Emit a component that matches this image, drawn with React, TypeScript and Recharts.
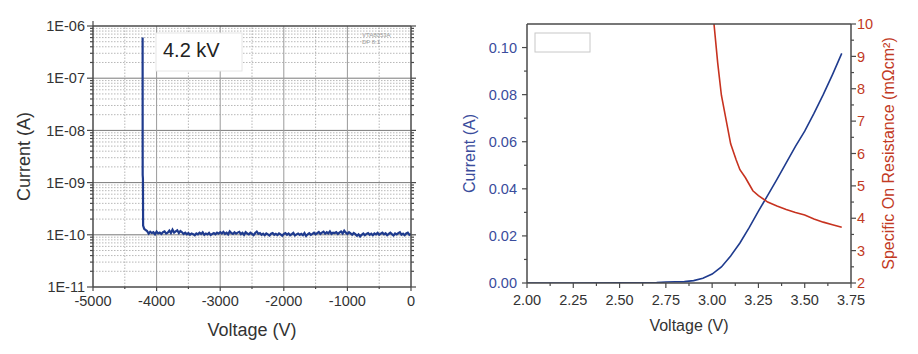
import React from 'react';
import { LineChart, Line, XAxis, YAxis, ReferenceLine } from 'recharts';

const FONT = "'Liberation Sans', Arial, sans-serif";

// ---------- Left chart: reverse leakage (log scale) ----------
const leakVoltage = [
  -4220, -4219, -4215, -4212, -4195, -4180,
  -4150, -4125, -4100, -4075, -4050, -4025, -4000, -3975, -3950, -3925, -3900, -3875, -3850, -3825, -3800, -3775, -3750, -3725, -3700, -3675, -3650, -3625, -3600,
  -3575, -3550, -3525, -3500, -3475, -3450, -3425, -3400, -3375, -3350, -3325, -3300, -3275, -3250, -3225, -3200, -3175, -3150, -3125, -3100, -3075, -3050, -3025, -3000,
  -2975, -2950, -2925, -2900, -2875, -2850, -2825, -2800, -2775, -2750, -2725, -2700, -2675, -2650, -2625, -2600, -2575, -2550, -2525, -2500, -2475, -2450, -2425, -2400,
  -2375, -2350, -2325, -2300, -2275, -2250, -2225, -2200, -2175, -2150, -2125, -2100, -2075, -2050, -2025, -2000, -1975, -1950, -1925, -1900, -1875, -1850, -1825, -1800,
  -1775, -1750, -1725, -1700, -1675, -1650, -1625, -1600, -1575, -1550, -1525, -1500, -1475, -1450, -1425, -1400, -1375, -1350, -1325, -1300, -1275, -1250, -1225, -1200,
  -1175, -1150, -1125, -1100, -1075, -1050, -1025, -1000, -975, -950, -925, -900, -875, -850, -825, -800, -775, -750, -725, -700, -675, -650, -625, -600,
  -575, -550, -525, -500, -475, -450, -425, -400, -375, -350, -325, -300, -275, -250, -225, -200, -175, -150, -125, -100, -75, -50, -25, 0,
];
const leakCurrent = [
  6.0e-7, 1.4e-9, 1.2e-9, 1.5e-10, 1.3e-10, 1.25e-10,
  1.18e-10, 1.05e-10, 1.14e-10, 1.08e-10, 1.12e-10, 1.02e-10, 1.15e-10, 1.06e-10, 1.10e-10, 1.04e-10, 1.12e-10, 1.16e-10, 1.06e-10, 1.10e-10, 1.20e-10, 1.08e-10, 1.25e-10, 1.10e-10, 1.16e-10, 1.22e-10, 1.08e-10, 1.18e-10, 1.12e-10,
  1.04e-10, 1.10e-10, 1.02e-10, 1.08e-10, 1.00e-10, 1.06e-10, 1.03e-10, 0.98e-10, 1.06e-10, 1.02e-10, 1.10e-10, 1.04e-10, 1.12e-10, 1.00e-10, 1.06e-10, 1.02e-10, 1.09e-10, 0.99e-10, 1.04e-10, 1.08e-10, 1.02e-10, 1.10e-10, 1.05e-10, 1.12e-10,
  1.06e-10, 1.14e-10, 1.04e-10, 1.10e-10, 1.02e-10, 1.16e-10, 1.08e-10, 1.04e-10, 1.12e-10, 1.05e-10, 1.10e-10, 1.14e-10, 1.03e-10, 1.09e-10, 1.00e-10, 1.12e-10, 1.06e-10, 1.02e-10, 1.10e-10, 1.04e-10, 0.98e-10, 1.08e-10, 1.15e-10, 1.04e-10,
  1.08e-10, 1.00e-10, 1.05e-10, 0.98e-10, 1.06e-10, 1.02e-10, 0.97e-10, 1.05e-10, 1.08e-10, 1.00e-10, 1.04e-10, 0.99e-10, 1.06e-10, 1.02e-10, 0.96e-10, 1.04e-10, 1.08e-10, 1.00e-10, 1.06e-10, 0.98e-10, 1.03e-10, 1.09e-10, 0.97e-10, 1.02e-10,
  1.06e-10, 1.00e-10, 1.04e-10, 0.98e-10, 1.08e-10, 0.95e-10, 1.02e-10, 1.07e-10, 1.00e-10, 1.04e-10, 1.10e-10, 1.02e-10, 1.08e-10, 1.13e-10, 1.04e-10, 1.10e-10, 1.15e-10, 1.05e-10, 1.12e-10, 1.06e-10, 1.16e-10, 1.04e-10, 1.10e-10, 1.08e-10,
  1.12e-10, 1.04e-10, 1.10e-10, 1.16e-10, 1.06e-10, 1.20e-10, 1.10e-10, 1.04e-10, 1.12e-10, 1.06e-10, 1.00e-10, 1.08e-10, 1.03e-10, 0.96e-10, 1.02e-10, 0.93e-10, 1.00e-10, 1.06e-10, 0.98e-10, 1.04e-10, 1.08e-10, 1.00e-10, 1.05e-10, 0.98e-10,
  1.06e-10, 1.02e-10, 1.09e-10, 1.00e-10, 1.05e-10, 1.10e-10, 1.02e-10, 1.07e-10, 0.98e-10, 1.04e-10, 1.10e-10, 1.03e-10, 0.97e-10, 1.06e-10, 1.02e-10, 1.08e-10, 1.12e-10, 1.00e-10, 1.05e-10, 0.98e-10, 1.06e-10, 1.10e-10, 1.00e-10, 1.03e-10,
];
const leakXMajor = [-5000, -4000, -3000, -2000, -1000, 0];
const leakXMinor = [-4500, -3500, -2500, -1500, -500];
const leakYDecades = [1e-11, 1e-10, 1e-9, 1e-8, 1e-7, 1e-6];
const leakYMinor = leakYDecades.slice(0, -1).flatMap((d) => [2, 3, 4, 5, 6, 7, 8, 9].map((m) => m * d));

// ---------- Right chart: forward IV + specific on-resistance ----------
const ivVoltage = [2.0, 2.25, 2.5, 2.7, 2.75, 2.8, 2.85, 2.9, 2.95, 3.0, 3.05, 3.1, 3.15, 3.2, 3.25, 3.3, 3.35, 3.4, 3.45, 3.5, 3.55, 3.6, 3.65, 3.7];
const ivCurrent = [0.0, 0.0, 0.0001, 0.0002, 0.0004, 0.0005, 0.0006, 0.001, 0.002, 0.0038, 0.0068, 0.0115, 0.017, 0.0235, 0.0305, 0.0372, 0.044, 0.051, 0.058, 0.0645, 0.072, 0.08, 0.0885, 0.0975];
const ronVoltage = [3.01, 3.03, 3.05, 3.08, 3.1, 3.13, 3.15, 3.18, 3.2, 3.22, 3.25, 3.3, 3.35, 3.4, 3.45, 3.5, 3.55, 3.6, 3.65, 3.7];
const ronValue = [10.0, 8.8, 7.8, 6.9, 6.3, 5.8, 5.5, 5.25, 5.05, 4.85, 4.7, 4.5, 4.38, 4.27, 4.18, 4.1, 3.98, 3.88, 3.8, 3.72];
const ivXMajor = [2.0, 2.25, 2.5, 2.75, 3.0, 3.25, 3.5, 3.75];
const ivXMinor = [2.125, 2.375, 2.625, 2.875, 3.125, 3.375, 3.625];
const ivYMajor = [0, 0.02, 0.04, 0.06, 0.08, 0.1];
const ivYMinor = [0.01, 0.03, 0.05, 0.07, 0.09];
const ronYMajor = [2, 3, 4, 5, 6, 7, 8, 9, 10];
const ronYMinor = [2.5, 3.5, 4.5, 5.5, 6.5, 7.5, 8.5, 9.5];

const BLUE_LINE = '#1f3b8e';
const BLUE_TEXT = '#3a4c9c';
const RED_LINE = '#c7321f';
const RED_TEXT = '#c23a24';
const AXIS = '#4a4a4a';

function AxisTick(props: any) {
  const { x, y, payload, side, majors, fmt, color, fontSize, majorLen, minorLen, gap } = props;
  const v = payload.value;
  const isMajor = majors.some((m: number) => Math.abs(m - v) <= Math.abs(m) * 1e-6 + 1e-20);
  const len = isMajor ? majorLen : minorLen;
  const showText = isMajor && fmt;
  if (side === 'bottom') {
    return (
      <g>
        <line x1={x} y1={y} x2={x} y2={y + len} stroke={AXIS} strokeWidth={1.2} />
        {showText && (
          <text x={x} y={y + gap} textAnchor="middle" fontSize={fontSize} fill={color} fontFamily={FONT}>{fmt(v)}</text>
        )}
      </g>
    );
  }
  if (side === 'top') {
    return <line x1={x} y1={y} x2={x} y2={y - len} stroke={AXIS} strokeWidth={1.2} />;
  }
  if (side === 'left') {
    return (
      <g>
        <line x1={x} y1={y} x2={x - len} y2={y} stroke={AXIS} strokeWidth={1.2} />
        {showText && (
          <text x={x - gap} y={y + fontSize * 0.36} textAnchor="end" fontSize={fontSize} fill={color} fontFamily={FONT}>{fmt(v)}</text>
        )}
      </g>
    );
  }
  return (
    <g>
      <line x1={x} y1={y} x2={x + len} y2={y} stroke={AXIS} strokeWidth={1.2} />
      {showText && (
        <text x={x + gap} y={y + fontSize * 0.36} textAnchor="start" fontSize={fontSize} fill={color} fontFamily={FONT}>{fmt(v)}</text>
      )}
    </g>
  );
}

const fmtExp = (v: number) => '1E-' + String(-Math.round(Math.log10(v))).padStart(2, '0');

export default function App() {
  const leakData = leakVoltage.map((v, k) => ({ v, i: leakCurrent[k] }));
  const ivData = ivVoltage.map((v, k) => ({ v, i: ivCurrent[k] }));
  const ronData = ronVoltage.map((v, k) => ({ v, r: ronValue[k] }));
  const axisLine = { stroke: AXIS, strokeWidth: 1.5 };

  return (
    <div style={{ position: 'absolute', left: 0, top: 0, width: 918, height: 354, background: '#fff', fontFamily: FONT }}>
      <div style={{ position: 'absolute', left: 0, top: 0 }}>
        <LineChart width={430} height={354} data={leakData} margin={{ top: 20, right: 0, bottom: 0, left: 0 }}>
          <XAxis
            dataKey="v" type="number" domain={[-5000, 0]} allowDataOverflow
            ticks={[...leakXMajor, ...leakXMinor]} interval={0} height={67}
            tickSize={0} tickMargin={0} tickLine={false} axisLine={axisLine}
            tick={(p: any) => <AxisTick {...p} side="bottom" majors={leakXMajor} fmt={(v: number) => String(v)} color="#333" fontSize={14.5} majorLen={4} minorLen={2} gap={19} />}
            label={{ value: 'Voltage (V)', position: 'insideBottom', offset: 18, fill: '#333', fontSize: 18 }}
          />
          <XAxis
            xAxisId="top" orientation="top" type="number" domain={[-5000, 0]} allowDataOverflow
            ticks={[...leakXMajor, ...leakXMinor]} interval={0} height={6}
            tickSize={0} tickMargin={0} tickLine={false} axisLine={axisLine}
            tick={(p: any) => <AxisTick {...p} side="top" majors={leakXMajor} majorLen={5} minorLen={3} />}
          />
          <YAxis
            type="number" scale="log" domain={[1e-11, 1e-6]} allowDataOverflow
            ticks={[...leakYDecades, ...leakYMinor]} interval={0} width={93}
            tickSize={0} tickMargin={0} tickLine={false} axisLine={axisLine}
            tick={(p: any) => <AxisTick {...p} side="left" majors={leakYDecades} fmt={fmtExp} color="#333" fontSize={14.5} majorLen={6} minorLen={3} gap={8} />}
            label={{ value: 'Current (A)', angle: -90, position: 'insideLeft', offset: 24, fill: '#333', fontSize: 18, style: { textAnchor: 'middle' } }}
          />
          <YAxis
            yAxisId="r" orientation="right" type="number" scale="log" domain={[1e-11, 1e-6]} allowDataOverflow
            ticks={[...leakYDecades, ...leakYMinor]} interval={0} width={19}
            tickSize={0} tickMargin={0} tickLine={false} axisLine={axisLine}
            tick={(p: any) => <AxisTick {...p} side="right" majors={leakYDecades} majorLen={5} minorLen={3} />}
          />
          {leakYMinor.map((y) => (
            <ReferenceLine key={'hm' + y} y={y} stroke="#9a9a9a" strokeWidth={0.7} strokeDasharray="1.5 1.5" />
          ))}
          {leakXMinor.map((x) => (
            <ReferenceLine key={'vm' + x} x={x} stroke="#9a9a9a" strokeWidth={0.7} strokeDasharray="1.5 1.5" />
          ))}
          {leakYDecades.slice(1, -1).map((y) => (
            <ReferenceLine key={'hM' + y} y={y} stroke="#7a7a7a" strokeWidth={1} />
          ))}
          {leakXMajor.slice(1, -1).map((x) => (
            <ReferenceLine key={'vM' + x} x={x} stroke="#9a9a9a" strokeWidth={1} />
          ))}
          <Line dataKey="i" stroke={BLUE_LINE} strokeWidth={2.2} dot={false} isAnimationActive={false} />
        </LineChart>
      </div>

      <div style={{ position: 'absolute', left: 430, top: 0 }}>
        <LineChart width={488} height={354} margin={{ top: 18, right: 0, bottom: 0, left: 0 }}>
          <XAxis
            dataKey="v" type="number" domain={[2, 3.75]} allowDataOverflow
            ticks={[...ivXMajor, ...ivXMinor]} interval={0} height={71}
            tickSize={0} tickMargin={0} tickLine={false} axisLine={axisLine}
            tick={(p: any) => <AxisTick {...p} side="bottom" majors={ivXMajor} fmt={(v: number) => v.toFixed(2)} color="#333" fontSize={14.5} majorLen={5} minorLen={3} gap={22} />}
            label={{ value: 'Voltage (V)', position: 'insideBottom', offset: 23, fill: '#333', fontSize: 16 }}
          />
          <XAxis
            xAxisId="top" orientation="top" type="number" domain={[2, 3.75]} allowDataOverflow
            ticks={[...ivXMajor, ...ivXMinor]} interval={0} height={6}
            tickSize={0} tickMargin={0} tickLine={false} axisLine={axisLine}
            tick={(p: any) => <AxisTick {...p} side="top" majors={ivXMajor} majorLen={5} minorLen={3} />}
          />
          <YAxis
            yAxisId="left" type="number" domain={[0, 0.11]} allowDataOverflow
            ticks={[...ivYMajor, ...ivYMinor]} interval={0} width={97}
            tickSize={0} tickMargin={0} tickLine={false} axisLine={axisLine}
            tick={(p: any) => <AxisTick {...p} side="left" majors={ivYMajor} fmt={(v: number) => v.toFixed(2)} color={BLUE_TEXT} fontSize={14.5} majorLen={5} minorLen={3} gap={10} />}
            label={{ value: 'Current (A)', angle: -90, position: 'insideLeft', offset: 39, fill: BLUE_TEXT, fontSize: 16, style: { textAnchor: 'middle' } }}
          />
          <YAxis
            yAxisId="right" orientation="right" type="number" domain={[2, 10]} allowDataOverflow
            ticks={[...ronYMajor, ...ronYMinor]} interval={0} width={67}
            tickSize={0} tickMargin={0} tickLine={false} axisLine={axisLine}
            tick={(p: any) => <AxisTick {...p} side="right" majors={ronYMajor} fmt={(v: number) => String(v)} color={RED_TEXT} fontSize={14.5} majorLen={5} minorLen={3} gap={6} />}
            label={{ value: 'Specific On Resistance (mΩcm²)', angle: -90, position: 'insideRight', offset: 30, fill: RED_TEXT, fontSize: 16, style: { textAnchor: 'middle' } }}
          />
          <Line yAxisId="left" data={ivData} dataKey="i" stroke={BLUE_LINE} strokeWidth={1.6} dot={false} isAnimationActive={false} />
          <Line yAxisId="right" data={ronData} dataKey="r" stroke={RED_LINE} strokeWidth={1.6} dot={false} isAnimationActive={false} />
        </LineChart>
      </div>

      <svg width={918} height={354} style={{ position: 'absolute', left: 0, top: 0, pointerEvents: 'none' }}>
        <rect x={156} y={33} width={86} height={38} fill="#fff" stroke="#e6e6e6" strokeWidth={1} />
        <text x={163} y={57} fontSize={20} fill="#222" fontFamily={FONT}>4.2 kV</text>
        <text x={362} y={37} fontSize={6} fill="#9a9a9a" fontFamily={FONT}>VTA8053A</text>
        <text x={362} y={44} fontSize={6} fill="#9a9a9a" fontFamily={FONT}>DF 8.1</text>
        <rect x={535} y={33} width={55} height={19} fill="#fff" stroke="#c8c8c8" strokeWidth={1} />
      </svg>
    </div>
  );
}
